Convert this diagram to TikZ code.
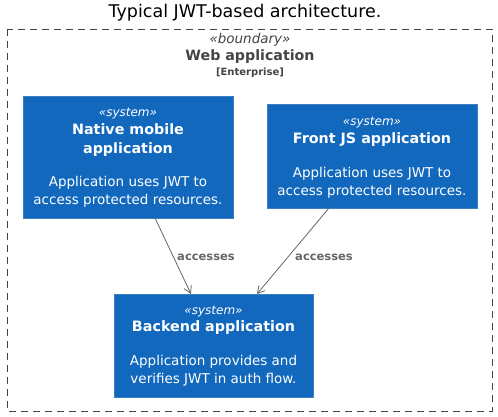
\documentclass[tikz,border=0pt]{standalone}
\usepackage{fontspec}
\setmainfont{DejaVu Sans}
\usetikzlibrary{arrows.meta}
\definecolor{sysblue}{HTML}{1168BD}
\definecolor{sysborder}{HTML}{3C7FC0}
\definecolor{bnd}{HTML}{444444}
\definecolor{rel}{HTML}{666666}
\tikzset{
  sysbox/.style={draw=sysborder, fill=sysblue, line width=0.8pt, inner sep=0pt},
  stereo/.style={text=white, font=\fontsize{12}{14}\selectfont\itshape},
  systitle/.style={text=white, font=\fontsize{14.3}{19}\selectfont\bfseries, align=center},
  sysdesc/.style={text=white, font=\fontsize{13.5}{18}\selectfont, align=center},
  relline/.style={draw=rel, line width=0.8pt, -{Straight Barb[length=7pt,width=8pt]}},
  rellabel/.style={text=rel, font=\fontsize{11.5}{13}\selectfont\bfseries},
}
\begin{document}
\begin{tikzpicture}[x=1pt,y=-1pt]
\useasboundingbox (0,0) rectangle (498,417);
\node[font=\fontsize{17.5}{20}\selectfont] (title) at (245,13) {Typical JWT-based architecture.};
\draw[bnd, dashed, dash pattern=on 7pt off 5pt, line width=0.7pt] (7,29) rectangle (492,411);
\node[text=bnd, font=\fontsize{13.5}{15}\selectfont\itshape] (bst) at (250,40) {«boundary»};
\node[text=bnd, font=\fontsize{14.2}{18}\selectfont\bfseries] (bname) at (250,57) {Web application};
\node[text=bnd, font=\fontsize{10}{12}\selectfont\bfseries] (btype) at (250,73) {[Enterprise]};

\node[sysbox, minimum width=210pt, minimum height=122pt] (native) at (128,157) {};
\node[stereo] at (128,114) {«system»};
\node[systitle] at (128,140.5) {Native mobile\\application};
\node[sysdesc] at (128,192) {Application uses JWT to\\access protected resources.};

\node[sysbox, minimum width=210pt, minimum height=104pt] (front) at (372,156) {};
\node[stereo] at (372,123) {«system»};
\node[systitle] at (372,140) {Front JS application};
\node[sysdesc] at (372,183) {Application uses JWT to\\access protected resources.};

\node[sysbox, minimum width=199pt, minimum height=103pt] (backend) at (213.5,345.5) {};
\node[stereo] at (213.5,312) {«system»};
\node[systitle] at (213.5,328) {Backend application};
\node[sysdesc] at (213.5,371) {Application provides and\\verifies JWT in auth flow.};

\coordinate (n1) at (155,218);
\coordinate (b1) at (191,294);
\coordinate (f1) at (329,208);
\coordinate (b2) at (257,294);
\draw[relline] (n1) -- (b1);
\draw[relline] (f1) -- (b2);
\node[rellabel] at (206,257) {accesses};
\node[rellabel] at (324,257) {accesses};
\end{tikzpicture}
\end{document}
